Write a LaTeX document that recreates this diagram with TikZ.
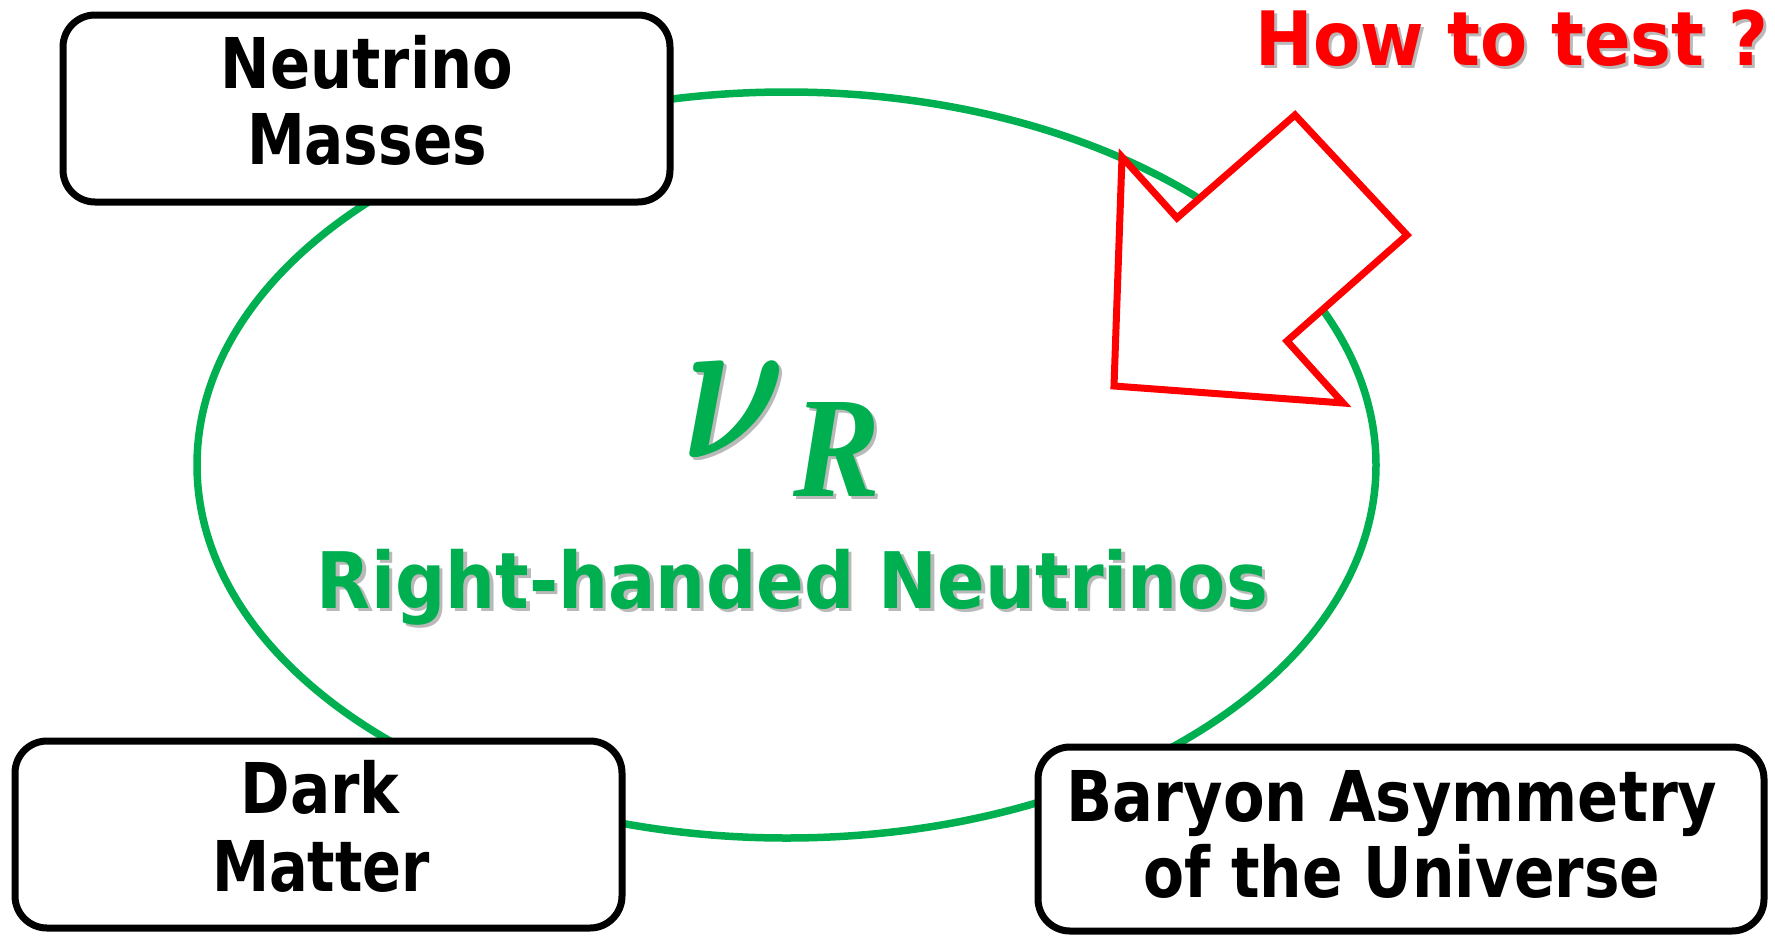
\documentclass[tikz,border=0pt]{standalone}
\usepackage{amsmath}
\usepackage{graphicx}
\usepackage{fontspec}
\setmainfont{DejaVu Sans}
\newfontfamily\rfont{Liberation Serif}
\definecolor{pgreen}{HTML}{00B050}
\definecolor{pred}{HTML}{FF0000}
\newcommand\fitw[2]{\resizebox{#1}{\height}{#2}}
\tikzset{
  topicbox/.style={draw=black, line width=7pt, rounded corners=32pt, fill=white},
  boxtext/.style={font=\fontsize{70}{84}\selectfont\bfseries, anchor=base, inner sep=0pt},
  shadowtext/.style={text=black!55, opacity=0.5},
}
\begin{document}
\begin{tikzpicture}[x=1pt,y=-1pt]
\useasboundingbox (0,0) rectangle (1775,937);
% central ellipse
\draw[pgreen, line width=7.5pt] (786.5,465) ellipse [x radius=589.5, y radius=373];
% boxes
\node[topicbox, minimum width=607pt, minimum height=187pt, inner sep=0pt] (nm) at (366.5,108.5) {};
\node[topicbox, minimum width=607pt, minimum height=187pt, inner sep=0pt] (dm) at (318.5,834.5) {};
\node[topicbox, minimum width=726pt, minimum height=184pt, inner sep=0pt] (bau) at (1401,839) {};
% box texts
\node[boxtext] (nm1) at (367,88) {\fitw{292pt}{Neutrino}};
\node[boxtext] (nm2) at (367,164) {\fitw{240pt}{Masses}};
\node[boxtext] (dm1) at (320,813) {\fitw{159pt}{Dark}};
\node[boxtext] (dm2) at (321,891) {\fitw{218pt}{Matter}};
\node[boxtext] (bau1) at (1392,821) {\fitw{651pt}{Baryon Asymmetry}};
\node[boxtext] (bau2) at (1402,897) {\fitw{517pt}{of the Universe}};
% red arrow
\draw[pred, line width=7pt, fill=white]
  (1343,403) -- (1114,386) -- (1122,157) -- (1177,218) -- (1295,115)
  -- (1407,235) -- (1287,341) -- cycle;
% nu_R
\node[anchor=south west, inner sep=0pt, shadowtext] (nus) at (685,461) {\resizebox{104pt}{95pt}{$\boldsymbol{\nu}$}};
\node[anchor=south west, inner sep=0pt, text=pgreen] (nu) at (682,458) {\resizebox{104pt}{95pt}{$\boldsymbol{\nu}$}};
\node[anchor=south west, inner sep=0pt, shadowtext] (rs) at (796,500) {\resizebox{87pt}{94pt}{\rfont\bfseries\itshape R}};
\node[anchor=south west, inner sep=0pt, text=pgreen] (r) at (793,497) {\resizebox{87pt}{94pt}{\rfont\bfseries\itshape R}};
% Right-handed Neutrinos
\node[boxtext, font=\fontsize{78}{90}\selectfont\bfseries, shadowtext] (rhns) at (796,611) {\fitw{951pt}{Right-handed Neutrinos}};
\node[boxtext, font=\fontsize{78}{90}\selectfont\bfseries, text=pgreen] (rhn) at (792.5,608) {\fitw{951pt}{Right-handed Neutrinos}};
% How to test ?
\node[boxtext, font=\fontsize{75}{88}\selectfont\bfseries, shadowtext] (hts) at (1515,68) {\fitw{513pt}{How to test ?}};
\node[boxtext, font=\fontsize{75}{88}\selectfont\bfseries, text=pred] (ht) at (1512,65) {\fitw{513pt}{How to test ?}};
\end{tikzpicture}
\end{document}
